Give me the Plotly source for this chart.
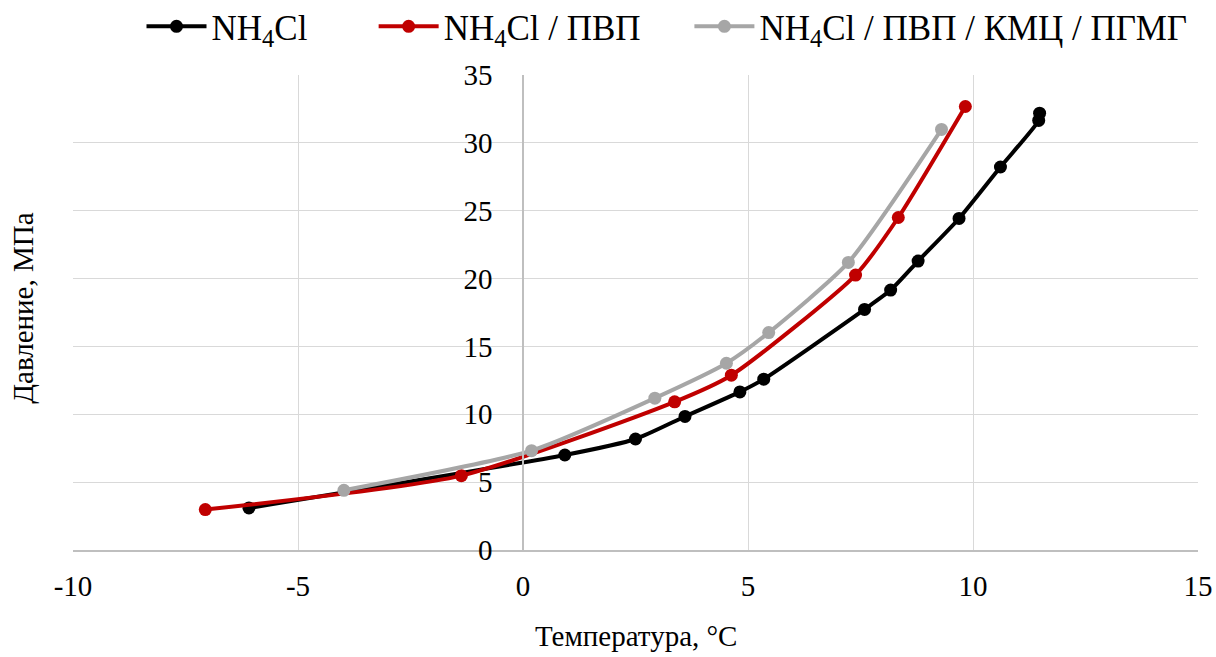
import plotly.graph_objects as go

# Data
t_nh4cl = [-6.09, 0.93, 2.50, 3.60, 4.82, 5.35, 7.59, 8.17, 8.78, 9.69, 10.61, 11.46, 11.48]
p_nh4cl = [3.10, 7.00, 8.18, 9.84, 11.65, 12.59, 17.73, 19.15, 21.29, 24.43, 28.22, 31.65, 32.19]

t_pvp = [-7.06, -1.37, 3.37, 4.63, 7.39, 8.34, 9.83]
p_pvp = [2.98, 5.48, 10.92, 12.88, 20.26, 24.50, 32.68]

t_mix = [-3.98, 0.19, 2.93, 4.52, 5.46, 7.23, 9.30]
p_mix = [4.40, 7.32, 11.19, 13.76, 16.02, 21.19, 30.99]

names = ["NH<sub>4</sub>Cl", "NH<sub>4</sub>Cl / ПВП", "NH<sub>4</sub>Cl / ПВП / КМЦ / ПГМГ"]
colors = ["#000000", "#C00000", "#A6A6A6"]

x_ticks = [-10, -5, 0, 5, 10, 15]
y_ticks = [0, 5, 10, 15, 20, 25, 30, 35]

FONT = "Liberation Serif"
legend_pad = ["&nbsp;" * 7, "&nbsp;" * 5, ""]

fig = go.Figure()
for xs, ys, nm, c, pad in zip([t_nh4cl, t_pvp, t_mix], [p_nh4cl, p_pvp, p_mix], names, colors, legend_pad):
    fig.add_trace(go.Scatter(
        x=xs, y=ys, name=nm + pad, mode="lines+markers",
        line=dict(color=c, width=4, shape="spline", smoothing=0.6),
        marker=dict(color=c, size=13),
    ))

fig.update_layout(
    width=1216, height=657,
    margin=dict(l=73, r=18, t=75, b=107, autoexpand=False),
    paper_bgcolor="white", plot_bgcolor="white",
    font=dict(family=FONT, size=29, color="black"),
    showlegend=True,
    legend=dict(orientation="h", x=0.528, xanchor="center", y=1.102, yanchor="middle",
                font=dict(family=FONT, size=35, color="black"), itemwidth=60,
                bgcolor="rgba(0,0,0,0)"),
    xaxis=dict(range=[-10, 15], tickvals=x_ticks, ticktext=[str(v) for v in x_ticks],
               showgrid=True, gridcolor="#D9D9D9", gridwidth=1.3,
               zeroline=False, showline=True, linecolor="#BFBFBF", linewidth=1.5,
               ticks="", ticklabelstandoff=9, automargin=False,
               tickfont=dict(family=FONT, size=29, color="black")),
    yaxis=dict(range=[0, 35], tickvals=y_ticks, ticktext=[str(v) for v in y_ticks],
               anchor="free", position=0.4, automargin=False,
               showgrid=True, gridcolor="#D9D9D9", gridwidth=1.3,
               zeroline=False, showline=True, linecolor="#BFBFBF", linewidth=1.5,
               ticks="", ticklabelstandoff=24,
               tickfont=dict(family=FONT, size=29, color="black")),
    annotations=[
        dict(text="Температура, °C", xref="paper", yref="paper", x=0.5, y=-0.181,
             xanchor="center", yanchor="middle", showarrow=False,
             font=dict(family=FONT, size=29, color="black")),
        dict(text="Давление, МПа", xref="paper", yref="paper", x=-0.0444, y=0.508,
             xanchor="center", yanchor="middle", textangle=-90, showarrow=False,
             font=dict(family=FONT, size=29, color="black")),
    ],
)

fig.write_html("out.html", config={"displayModeBar": False},
               post_script="document.body.style.margin='0';document.body.style.overflow='hidden';")
